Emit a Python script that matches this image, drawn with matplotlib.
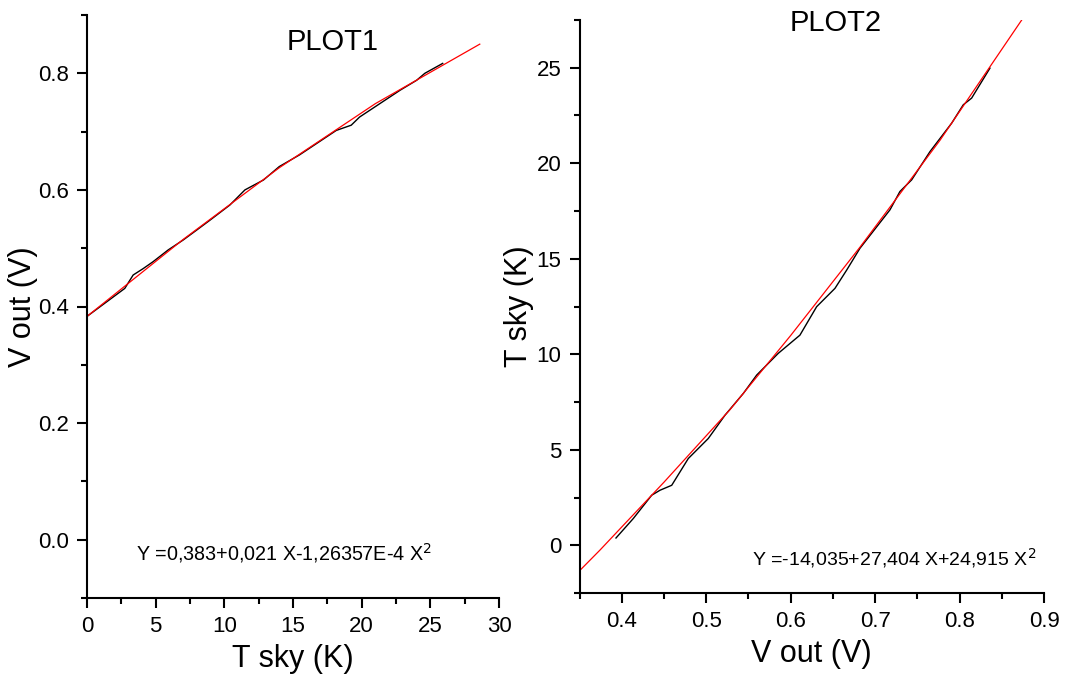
import matplotlib
matplotlib.use("Agg")
import matplotlib.pyplot as plt
from matplotlib.ticker import MultipleLocator, FormatStrFormatter

plt.rcParams['font.family'] = ['Liberation Sans', 'DejaVu Sans']

# PLOT1 data: T sky (K) vs V out (V)
p1_tsky = [0.0, 2.75, 3.36, 4.09, 4.82, 5.91, 7.0, 7.98, 8.95, 10.4, 11.5, 12.85,
           14.0, 15.47, 18.15, 19.24, 19.85, 22.8, 24.0, 24.6, 25.9]
p1_vout = [0.383, 0.431, 0.454, 0.465, 0.477, 0.497, 0.514, 0.531, 0.548, 0.574, 0.600, 0.617,
           0.640, 0.660, 0.702, 0.711, 0.725, 0.771, 0.788, 0.800, 0.817]
# PLOT1 fit curve (red)
p1_fit_x = [0.0, 7.0, 14.0, 21.0, 28.6]
p1_fit_y = [0.383, 0.515, 0.638, 0.748, 0.850]

# PLOT2 data: V out (V) vs T sky (K)
p2_vout = [0.3932, 0.4137, 0.4355, 0.4453, 0.4592, 0.4788, 0.5025, 0.5223, 0.5341,
           0.544, 0.5598, 0.5854, 0.611, 0.6308, 0.6525, 0.6664, 0.6821, 0.7176,
           0.7294, 0.7433, 0.765, 0.7907, 0.8044, 0.8143, 0.836]
p2_tsky = [0.38, 1.40, 2.62, 2.88, 3.14, 4.54, 5.59, 6.81, 7.43,
           7.95, 8.91, 10.05, 11.0, 12.49, 13.45, 14.41, 15.55, 17.56,
           18.52, 19.13, 20.61, 22.1, 23.06, 23.41, 24.98]
# PLOT2 fit curve (red)
p2_fit_x = [0.3495, 0.3743, 0.45, 0.5282, 0.60, 0.682, 0.7768, 0.8736]
p2_fit_y = [-1.36, -0.25, 3.3, 7.1, 10.98, 15.6, 21.2, 27.5]

fig = plt.figure(figsize=(10.81, 6.77), dpi=100)
ax1 = fig.add_axes([87/1081, 79/677, (499-87)/1081, (598-15)/677])
ax2 = fig.add_axes([579.5/1081, 84/677, (1044-579.5)/1081, (593-20)/677])

for ax in (ax1, ax2):
    ax.spines['top'].set_visible(False)
    ax.spines['right'].set_visible(False)
    ax.spines['left'].set_linewidth(1.5)
    ax.spines['bottom'].set_linewidth(1.5)
    ax.tick_params(which='major', direction='out', length=7, width=1.5, labelsize=16, pad=6)
    ax.tick_params(which='minor', direction='out', length=4, width=1.5)

ax1.plot(p1_tsky, p1_vout, color='black', lw=1.0)
ax1.plot(p1_fit_x, p1_fit_y, color='red', lw=0.9)
ax1.set_xlim(0, 30)
ax1.set_ylim(-0.1, 0.9)
ax1.xaxis.set_major_locator(MultipleLocator(5))
ax1.xaxis.set_minor_locator(MultipleLocator(2.5))
ax1.yaxis.set_major_locator(MultipleLocator(0.2))
ax1.yaxis.set_minor_locator(MultipleLocator(0.1))
ax1.yaxis.set_major_formatter(FormatStrFormatter('%.1f'))
ax1.set_xlabel('T sky (K)', fontsize=22, labelpad=5)
ax1.set_ylabel('V out (V)', fontsize=22, labelpad=0)
ax1.text(0.595, 0.978, 'PLOT1', transform=ax1.transAxes, ha='center', va='top', fontsize=21)
ax1.text(0.12, 0.0775, r'Y =0,383+0,021 X-1,26357E-4 X$^2$', transform=ax1.transAxes,
         ha='left', va='center', fontsize=14.2)

ax2.plot(p2_vout, p2_tsky, color='black', lw=1.0)
ax2.plot(p2_fit_x, p2_fit_y, color='red', lw=0.9)
ax2.set_xlim(0.35, 0.9)
ax2.set_ylim(-2.5, 27.5)
ax2.xaxis.set_major_locator(MultipleLocator(0.1))
ax2.xaxis.set_minor_locator(MultipleLocator(0.05))
ax2.yaxis.set_major_locator(MultipleLocator(5))
ax2.yaxis.set_minor_locator(MultipleLocator(2.5))
ax2.xaxis.set_major_formatter(FormatStrFormatter('%.1f'))
ax2.set_xlabel('V out (V)', fontsize=22, labelpad=5)
ax2.set_ylabel('T sky (K)', fontsize=22, labelpad=2)
ax2.text(0.552, 0.995, 'PLOT2', transform=ax2.transAxes, ha='center', va='center', fontsize=21)
ax2.text(0.372, 0.0615, r'Y =-14,035+27,404 X+24,915 X$^2$', transform=ax2.transAxes,
         ha='left', va='center', fontsize=14)

fig.savefig('out.png', dpi=100)
